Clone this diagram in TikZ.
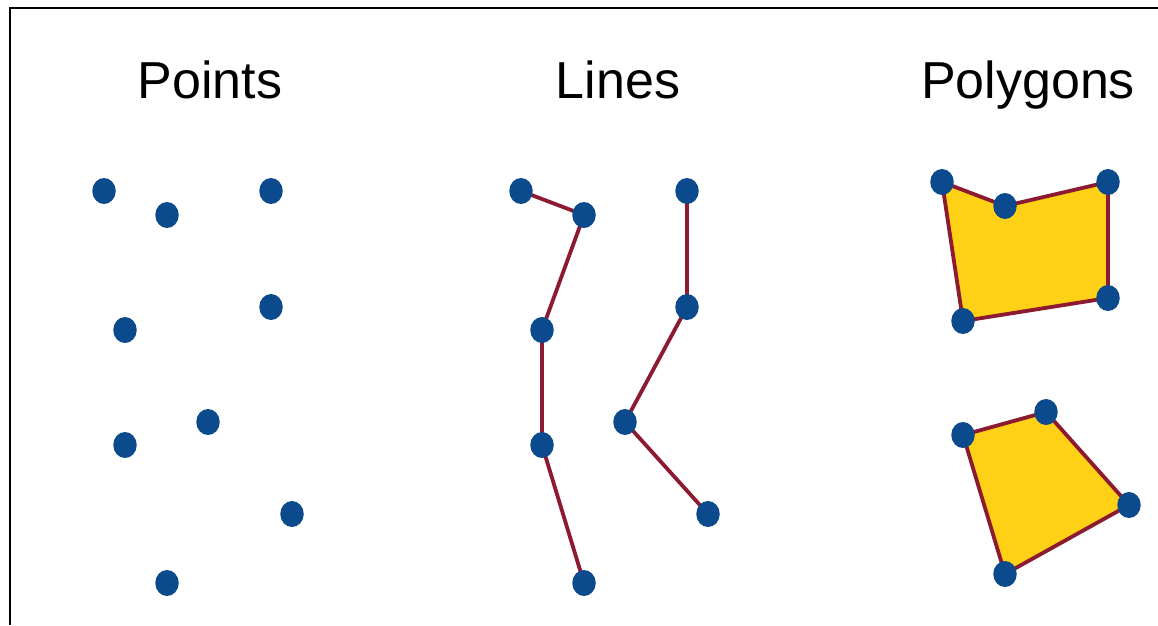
\documentclass[tikz,border=0pt]{standalone}
\usepackage{fontspec}
\setmainfont{Liberation Sans}
\usetikzlibrary{shapes.geometric,backgrounds}
\definecolor{dotblue}{HTML}{0B4A8C}
\definecolor{edgered}{HTML}{8C1A30}
\definecolor{polyyellow}{HTML}{FFD116}
\tikzset{
  dot/.style={ellipse,fill=dotblue,draw=none,minimum width=23.5pt,minimum height=26pt,inner sep=0pt},
  edge/.style={draw=edgered,line width=3.8pt,line join=round},
  title/.style={anchor=base,font=\fontsize{52}{60}\selectfont,text=black,inner sep=0pt}
}
\begin{document}
\begin{tikzpicture}[x=1pt,y=-1pt]
\useasboundingbox (0,0) rectangle (1158,625);
\draw[line width=2.5pt,black] (10,625) -- (10,8) -- (1158,8);
% titles
\node[title] (tpoints) at (210,98) {Points};
\node[title] (tlines) at (618,98) {Lines};
\node[title] (tpolys) at (1028,98) {Polygons};
% points
\node[dot] (a1) at (104,191) {};
\node[dot] (a2) at (167,215) {};
\node[dot] (a3) at (271,191) {};
\node[dot] (a4) at (125,330) {};
\node[dot] (a5) at (271,307) {};
\node[dot] (a6) at (125,445) {};
\node[dot] (a7) at (208,422) {};
\node[dot] (a8) at (292,514) {};
\node[dot] (a9) at (167,583) {};
% lines
\node[dot] (l1) at (521,191) {};
\node[dot] (l2) at (584,215) {};
\node[dot] (l3) at (542,330) {};
\node[dot] (l4) at (542,445) {};
\node[dot] (l5) at (584,583) {};
\node[dot] (m1) at (687,191) {};
\node[dot] (m2) at (687,307) {};
\node[dot] (m3) at (625,422) {};
\node[dot] (m4) at (708,514) {};
% polygons
\node[dot] (p1) at (942,182) {};
\node[dot] (p2) at (1005,206) {};
\node[dot] (p3) at (1108,182) {};
\node[dot] (p4) at (1108,298) {};
\node[dot] (p5) at (963,321) {};
\node[dot] (q1) at (963,435) {};
\node[dot] (q2) at (1046,412) {};
\node[dot] (q3) at (1129,505) {};
\node[dot] (q4) at (1005,574) {};
\begin{pgfonlayer}{background}
\draw[edge] (l1.center) -- (l2.center) -- (l3.center) -- (l4.center) -- (l5.center);
\draw[edge] (m1.center) -- (m2.center) -- (m3.center) -- (m4.center);
\draw[edge,fill=polyyellow] (p1.center) -- (p2.center) -- (p3.center) -- (p4.center) -- (p5.center) -- cycle;
\draw[edge,fill=polyyellow] (q1.center) -- (q2.center) -- (q3.center) -- (q4.center) -- cycle;
\end{pgfonlayer}
\end{tikzpicture}
\end{document}
